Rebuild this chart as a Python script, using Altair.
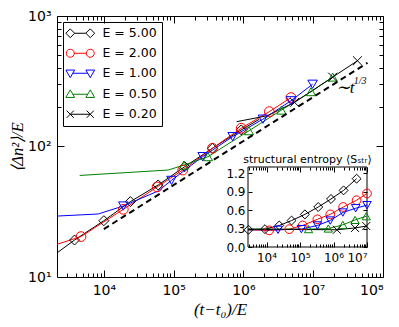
import altair as alt
import pandas as pd

SERIES = ["E = 5.00", "E = 2.00", "E = 1.00", "E = 0.50", "E = 0.20"]
COLORS = ["#000000", "#ff0000", "#0000ff", "#008000", "#000000"]
SHAPES = ["diamond", "circle", "triangle-down", "triangle-up", "M-1,-1L1,1M-1,1L1,-1"]
MSIZE = [100, 80, 80, 80, 60]

# ---- main panel: full curves (x = (t-t0)/E, y = <dn^2>/E)
E5_x = [2130, 3800, 10000, 24000, 60000, 144000, 360000, 930000, 1700000]
E5_y = [15.3, 19.2, 27, 37.8, 50.7, 70, 97, 134, 162]
E2_x = [2130, 4700, 19000, 58000, 135000, 360000, 930000, 2350000, 4800000]
E2_y = [17.8, 20.4, 33, 49, 66, 97, 138, 185, 237]
E1_x = [2130, 8300, 19000, 60000, 93000, 260000, 700000, 1900000, 4800000, 9800000]
E1_y = [29.3, 30.4, 35, 45.6, 55, 83.6, 119, 162, 224, 300]
E05_x = [4500, 83000, 140000, 310000, 1200000, 3500000, 9300000, 19000000]
E05_y = [60, 66, 72, 83.5, 132, 190, 263, 340]
E02_x = [800000, 2200000, 5400000, 19000000, 43000000]
E02_y = [155, 172, 218, 340, 454]

# ---- main panel: marker positions
E5_mx = [3800, 10000, 24000, 60000, 144000, 360000, 930000]
E5_my = [19.2, 27, 37.8, 50.7, 70, 97, 134]
E2_mx = [4700, 19000, 58000, 135000, 360000, 930000, 2350000, 4800000]
E2_my = [20.4, 33, 49, 66, 97, 138, 185, 237]
E1_mx = [19000, 93000, 260000, 700000, 1900000, 4800000, 9800000]
E1_my = [35, 55, 83.6, 119, 162, 224, 300]
E05_mx = [140000, 310000, 1200000, 3500000, 9300000, 19000000]
E05_my = [72, 83.5, 132, 190, 263, 340]
E02_mx = [5400000, 19000000, 43000000]
E02_my = [218, 340, 454]

# ---- guide line ~ t^(1/3)
GUIDE_x = [10000, 60000000]
GUIDE_y = [23.3, 438]

# ---- inset: structural entropy <S_str>
S5_x = [2900, 9000, 24000, 56000, 140000, 350000, 840000, 2000000, 4900000]
S5_y = [0.28, 0.29, 0.35, 0.43, 0.53, 0.65, 0.78, 0.92, 1.11]
S2_x = [2800, 12000, 48000, 120000, 330000, 800000, 1950000, 4900000, 10000000]
S2_y = [0.28, 0.27, 0.29, 0.35, 0.45, 0.53, 0.65, 0.76, 0.87]
S1_x = [2800, 22000, 110000, 330000, 800000, 1900000, 4600000, 10000000]
S1_y = [0.28, 0.28, 0.29, 0.35, 0.43, 0.56, 0.63, 0.68]
S05_x = [2800, 180000, 700000, 1900000, 4400000, 9500000]
S05_y = [0.29, 0.29, 0.30, 0.36, 0.44, 0.50]
S02_x = [2800, 1260000, 4400000, 9500000]
S02_y = [0.29, 0.28, 0.31, 0.34]
S_mark_skip_first = [False, True, True, True, True]

# ---- axes
MAIN_X = [2130, 1e8]
MAIN_Y = [10, 1000]
INSET_X = [2800, 1e7]
INSET_Y = [0, 1.3]
MAIN_X_LABELS = [1e4, 1e5, 1e6, 1e7, 1e8]
MAIN_Y_LABELS = [10, 100, 1000]
INSET_X_LABELS = [1e4, 1e5, 1e6, 1e7]
INSET_Y_LABELS = [0.0, 0.3, 0.6, 0.9, 1.2]

W, H = 326, 261
IX0, IX1 = 191, 310   # inset pixel range inside plot
IY0, IY1 = 231, 151

def log_ticks(lo, hi):
    out = []
    for k in range(2, 9):
        for m in range(1, 10):
            v = m * 10 ** k
            if lo <= v <= hi:
                out.append(v)
    return out

SUP = "'10' + ['⁰','¹','²','³','⁴','⁵','⁶','⁷','⁸','⁹'][round(log(datum.value)/LN10)]"
MAJOR = "abs(log(datum.value)/LN10 - round(log(datum.value)/LN10)) < 0.001"
FONT = "DejaVu Sans"


def tick_axis(orient, offset, values, major=7, minor=4):
    return alt.Axis(orient=orient, offset=offset, values=values, labels=False, domain=False,
                    ticks=True, tickSize={"condition": {"test": MAJOR, "value": major}, "value": minor},
                    tickColor="black", tickWidth=1, title=None, grid=False, zindex=2)


def lin_tick_axis(orient, offset, values, size=4):
    return alt.Axis(orient=orient, offset=offset, values=values, labels=False, domain=False,
                    ticks=True, tickSize=size, tickColor="black", tickWidth=1, title=None,
                    grid=False, zindex=2)


def frame(xs, ys, series):
    return pd.DataFrame({"x": xs, "y": ys, "s": series, "o": list(range(len(xs)))})


main_lines = pd.concat([frame(E5_x, E5_y, SERIES[0]), frame(E2_x, E2_y, SERIES[1]),
                        frame(E1_x, E1_y, SERIES[2]), frame(E05_x, E05_y, SERIES[3]),
                        frame(E02_x, E02_y, SERIES[4])])
main_marks = pd.concat([frame(E5_mx, E5_my, SERIES[0]), frame(E2_mx, E2_my, SERIES[1]),
                        frame(E1_mx, E1_my, SERIES[2]), frame(E05_mx, E05_my, SERIES[3]),
                        frame(E02_mx, E02_my, SERIES[4])])
guide = pd.DataFrame({"x": GUIDE_x, "y": GUIDE_y})
inset_lines = pd.concat([frame(S5_x, S5_y, SERIES[0]), frame(S2_x, S2_y, SERIES[1]),
                         frame(S1_x, S1_y, SERIES[2]), frame(S05_x, S05_y, SERIES[3]),
                         frame(S02_x, S02_y, SERIES[4])])
parts = []
for sx, sy, name, skip in zip([S5_x, S2_x, S1_x, S05_x, S02_x], [S5_y, S2_y, S1_y, S05_y, S02_y],
                              SERIES, S_mark_skip_first):
    k = 1 if skip else 0
    parts.append(frame(sx[k:], sy[k:], name))
inset_marks = pd.concat(parts)

ann = pd.DataFrame({"x": [2.1e7, 3.8e7], "y": [257, 300], "t": ["∼t", "1/3"], "fs": [17, 10]})
inset_title = pd.DataFrame({"x": [(2800 * 1e7) ** 0.5], "y": [1.365],
                            "t": ["structural entropy ⟨Sₛₜᵣ⟩"]})
inset_box = pd.DataFrame({"x": [INSET_X[0]], "x2": [INSET_X[1]], "y": [INSET_Y[0]], "y2": [INSET_Y[1]]})

mx = alt.Scale(type="log", domain=MAIN_X, nice=False)
my = alt.Scale(type="log", domain=MAIN_Y, nice=False)
ix = alt.Scale(type="log", domain=INSET_X, nice=False, range=[IX0, IX1])
iy = alt.Scale(type="linear", domain=INSET_Y, nice=False, zero=False, range=[IY0, IY1])
col = alt.Scale(domain=SERIES, range=COLORS)
shp = alt.Scale(domain=SERIES, range=SHAPES)
siz = alt.Scale(domain=SERIES, range=MSIZE)
siz_i = alt.Scale(domain=SERIES, range=[int(m * 0.8) for m in MSIZE])

MX_TICKS = log_ticks(MAIN_X[0], MAIN_X[1])
MY_TICKS = log_ticks(MAIN_Y[0], MAIN_Y[1])
IX_TICKS = log_ticks(INSET_X[0], INSET_X[1])

x_label_axis = alt.Axis(orient="bottom", offset=0, values=MAIN_X_LABELS, labelExpr=SUP, ticks=False,
                        domain=False, grid=False, labelFont=FONT, labelFontSize=14, labelColor="black",
                        labelPadding=6, labelOverlap=False, title="(t−t₀)/E",
                        titleFont="Liberation Serif", titleFontStyle="italic", titleFontWeight="normal",
                        titleFontSize=17, titleColor="black", titlePadding=4)
y_label_axis = alt.Axis(orient="left", offset=0, values=MAIN_Y_LABELS, labelExpr=SUP, ticks=False,
                        domain=False, grid=False, labelFont=FONT, labelFontSize=14, labelColor="black",
                        labelPadding=6, labelOverlap=False, title="⟨Δn²⟩/E",
                        titleFont="Liberation Serif", titleFontStyle="italic", titleFontWeight="normal",
                        titleFontSize=16.5, titleColor="black", titlePadding=2)

l_main_lines = alt.Chart(main_lines).mark_line(strokeWidth=1, clip=True).encode(
    x=alt.X("x:Q", scale=mx, axis=x_label_axis),
    y=alt.Y("y:Q", scale=my, axis=y_label_axis),
    color=alt.Color("s:N", scale=col, legend=None),
    detail="s:N", order="o:Q")

l_main_marks = alt.Chart(main_marks).mark_point(filled=False, strokeWidth=1, opacity=1).encode(
    x=alt.X("x:Q", scale=mx, axis=tick_axis("top", -H, MX_TICKS)),
    y=alt.Y("y:Q", scale=my, axis=tick_axis("right", -W, MY_TICKS)),
    color=alt.Color("s:N", scale=col, legend=None),
    shape=alt.Shape("s:N", scale=shp, legend=None),
    size=alt.Size("s:N", scale=siz, legend=None))

l_guide = alt.Chart(guide).mark_line(color="black", strokeWidth=2, strokeDash=[6, 4]).encode(
    x=alt.X("x:Q", scale=mx, axis=tick_axis("bottom", -H, MX_TICKS)),
    y=alt.Y("y:Q", scale=my, axis=tick_axis("left", -W, MY_TICKS)))

l_ann = alt.Chart(ann).mark_text(font="Liberation Serif", fontStyle="italic", align="left",
                                 baseline="alphabetic", color="black").encode(
    x=alt.X("x:Q", scale=mx, axis=None),
    y=alt.Y("y:Q", scale=my, axis=None),
    text="t:N", size=alt.Size("fs:Q", scale=None))

# legend (symbols drawn as line + two markers, matplotlib style)
LEG_PATHS = [
    "M-3.6,0L-2.5,-1.1L-1.4,0L-2.5,1.1Z M-1.4,0L1.4,0 M1.4,0L2.5,-1.1L3.6,0L2.5,1.1Z",
    "M-3.5,0A1,1,0,1,0,-1.5,0A1,1,0,1,0,-3.5,0Z M-1.5,0L1.5,0 M1.5,0A1,1,0,1,0,3.5,0A1,1,0,1,0,1.5,0Z",
    "M-3.6,-0.8L-1.4,-0.8L-2.5,1.1Z M-1.86,0L1.86,0 M1.4,-0.8L3.6,-0.8L2.5,1.1Z",
    "M-3.6,0.8L-1.4,0.8L-2.5,-1.1Z M-1.86,0L1.86,0 M1.4,0.8L3.6,0.8L2.5,-1.1Z",
    "M-3.4,-0.9L-1.6,0.9M-3.4,0.9L-1.6,-0.9 M-2.5,0L2.5,0 M1.6,-0.9L3.4,0.9M1.6,0.9L3.4,-0.9",
]
leg = alt.Legend(title=None, orient="none", legendX=6, legendY=6, padding=5, rowPadding=7,
                 symbolSize=64, symbolStrokeWidth=1, symbolOpacity=1, symbolOffset=6,
                 symbolFillColor="transparent", labelOffset=16,
                 labelFont=FONT, labelFontSize=12.5, labelColor="black",
                 strokeColor="black", fillColor="white", cornerRadius=0)
l_legend = alt.Chart(main_marks).mark_point(filled=False, opacity=0).encode(
    x=alt.X("x:Q", scale=mx, axis=None),
    y=alt.Y("y:Q", scale=my, axis=None),
    color=alt.Color("s:N", scale=col, legend=leg),
    shape=alt.Shape("s:N", scale=alt.Scale(domain=SERIES, range=LEG_PATHS), legend=leg))

# inset
l_box = alt.Chart(inset_box).mark_rect(fill="white", stroke="black", strokeWidth=1).encode(
    x=alt.X("x:Q", scale=ix, axis=tick_axis("bottom", -(H - IY1), IX_TICKS, 5, 3)),
    x2="x2:Q",
    y=alt.Y("y:Q", scale=iy, axis=lin_tick_axis("left", -IX1, INSET_Y_LABELS)),
    y2="y2:Q")

ix_label_axis = alt.Axis(orient="bottom", offset=-(H - IY0), values=INSET_X_LABELS, labelExpr=SUP,
                         ticks=False, domain=False, grid=False, labelFont=FONT, labelFontSize=12,
                         labelColor="black", labelPadding=5, labelOverlap=False, title=None, zindex=2)
iy_label_axis = alt.Axis(orient="left", offset=-IX0, values=INSET_Y_LABELS, format=".1f",
                         ticks=False, domain=False, grid=False, labelFont=FONT, labelFontSize=12,
                         labelColor="black", labelPadding=3, labelOverlap=False, title=None, zindex=2)

l_in_lines = alt.Chart(inset_lines).mark_line(strokeWidth=1).encode(
    x=alt.X("x:Q", scale=ix, axis=ix_label_axis),
    y=alt.Y("y:Q", scale=iy, axis=iy_label_axis),
    color=alt.Color("s:N", scale=col, legend=None),
    detail="s:N", order="o:Q")

l_in_marks = alt.Chart(inset_marks).mark_point(filled=False, strokeWidth=1, opacity=1).encode(
    x=alt.X("x:Q", scale=ix, axis=tick_axis("top", -IY0, IX_TICKS, 5, 3)),
    y=alt.Y("y:Q", scale=iy, axis=lin_tick_axis("right", -(W - IX0), INSET_Y_LABELS)),
    color=alt.Color("s:N", scale=col, legend=None),
    shape=alt.Shape("s:N", scale=shp, legend=None),
    size=alt.Size("s:N", scale=siz_i, legend=None))

l_in_title = alt.Chart(inset_title).mark_text(font=FONT, fontSize=11, align="center",
                                              baseline="alphabetic", color="black").encode(
    x=alt.X("x:Q", scale=ix, axis=None),
    y=alt.Y("y:Q", scale=iy, axis=None),
    text="t:N")

chart = alt.layer(l_main_lines, l_main_marks, l_guide, l_ann, l_legend,
                  l_box, l_in_lines, l_in_marks, l_in_title).resolve_scale(
    x="independent", y="independent", color="independent", shape="independent", size="independent"
).properties(
    width=W, height=H,
    autosize=alt.AutoSizeParams(type="none"),
    padding={"left": 49, "top": 8, "right": 8, "bottom": 42},
    background="white",
).configure_view(stroke="black", strokeWidth=1)

chart.save("out.html", embed_options={"renderer": "svg", "actions": False})
